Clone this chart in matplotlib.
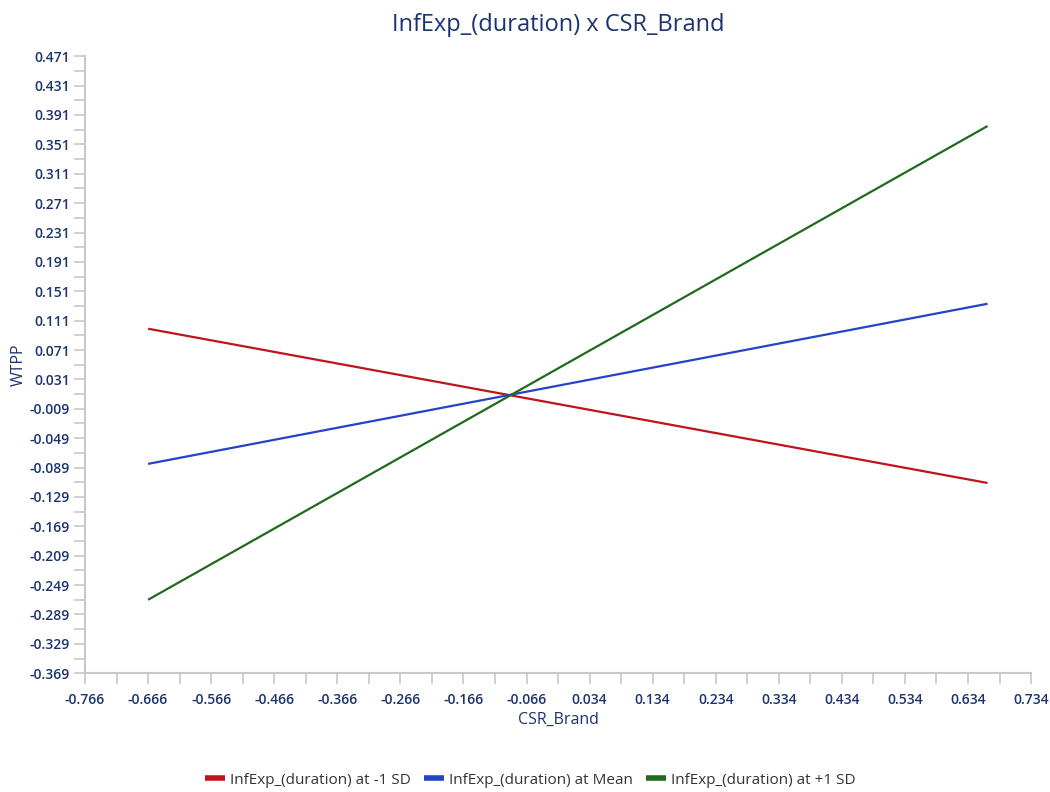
import matplotlib
matplotlib.use("Agg")
import matplotlib.pyplot as plt
from matplotlib.ticker import FixedLocator
import numpy as np

# Simple slopes: WTPP vs CSR_Brand at three levels of InfExp_(duration)
csr_brand = [-0.666, 0.665]
series_names = [
    "InfExp_(duration) at -1 SD",
    "InfExp_(duration) at Mean",
    "InfExp_(duration) at +1 SD",
]
wtpp_low = [0.100, -0.110]
wtpp_mean = [-0.084, 0.134]
wtpp_high = [-0.269, 0.376]
series_colors = ["#c0141c", "#2443c8", "#1f6a1c"]

x_ticks = [round(-0.766 + 0.1 * i, 3) for i in range(16)]
y_ticks = [round(-0.369 + 0.04 * i, 3) for i in range(22)]

navy = "#1b3470"
plt.rcParams["font.family"] = ["Open Sans", "DejaVu Sans"]

fig = plt.figure(figsize=(10.5, 7.92), dpi=100)
ax = fig.add_axes([0.081, 0.150, 0.901, 0.779])

for name, vals, col in zip(series_names, [wtpp_low, wtpp_mean, wtpp_high], series_colors):
    ax.plot(csr_brand, vals, color=col, lw=1.6, label=name, solid_capstyle="butt")

ax.set_xlim(x_ticks[0], x_ticks[-1])
ax.set_ylim(y_ticks[0], y_ticks[-1])
ax.xaxis.set_major_locator(FixedLocator(x_ticks))
ax.yaxis.set_major_locator(FixedLocator(y_ticks))
ax.set_xticklabels([f"{v:.3f}" for v in x_ticks])
ax.set_yticklabels([f"{v:.3f}" for v in y_ticks])
ax.xaxis.set_minor_locator(FixedLocator([v + 0.05 for v in x_ticks[:-1]]))
ax.yaxis.set_minor_locator(FixedLocator([v + 0.02 for v in y_ticks[:-1]]))

for s in ["top", "right"]:
    ax.spines[s].set_visible(False)
for s in ["left", "bottom"]:
    ax.spines[s].set_color("#c8c8c8")
    ax.spines[s].set_linewidth(1.5)

ax.tick_params(which="both", color="#c8c8c8", width=1.2, length=8,
               labelcolor=navy, labelsize=10)
ax.tick_params(axis="y", pad=3)
ax.tick_params(axis="x", pad=6)
for lab in ax.get_xticklabels() + ax.get_yticklabels():
    lab.set_fontweight("semibold")

ax.set_title("InfExp_(duration) x CSR_Brand", color=navy, fontsize=17, pad=18)
ax.set_xlabel("CSR_Brand", color=navy, fontsize=11.5, labelpad=4)
ax.set_ylabel("WTPP", color=navy, fontsize=11.5)
ax.yaxis.set_label_coords(-0.062, 0.5)

leg = fig.legend(loc="lower center", bbox_to_anchor=(0.505, -0.012), ncol=3,
                 frameon=False, fontsize=11, handlelength=1.3, handletextpad=0.3,
                 columnspacing=0.9)
for line in leg.get_lines():
    line.set_linewidth(4)
for t in leg.get_texts():
    t.set_color("#333333")

fig.savefig("out.png", dpi=100, facecolor="white")
